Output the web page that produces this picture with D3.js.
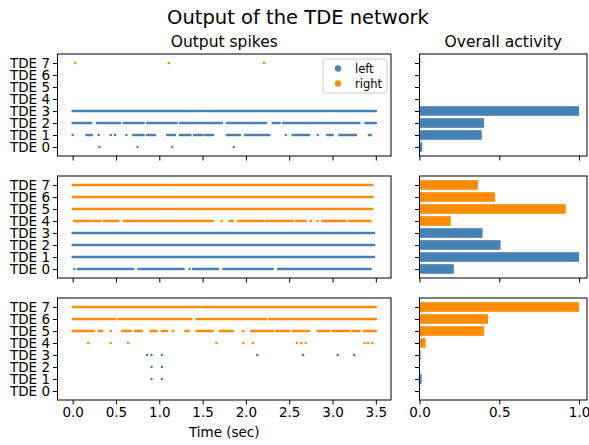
<!DOCTYPE html>
<html>
<head>
<meta charset="utf-8">
<script src="https://cdn.jsdelivr.net/npm/d3@7"></script>
<style>
  body { margin: 0; background: #fff; }
  svg { display: block; font-family: "DejaVu Sans", sans-serif; }
</style>
</head>
<body>
<svg id="chart" width="589" height="445"></svg>
<script>
// ---------- data ----------
const neuronLabels = ["TDE 0","TDE 1","TDE 2","TDE 3","TDE 4","TDE 5","TDE 6","TDE 7"];
const timeTicks = [0, 0.5, 1.0, 1.5, 2.0, 2.5, 3.0, 3.5];
const activityTicks = [0, 0.5, 1.0];
const seriesNames = ["left", "right"];

// spike activity read from the raster: [neuron, start (s), end (s)] (start==end: single spike)
const spikes1 = [
  [0,0.31,0.31],[0,0.75,0.75],[0,1.15,1.15],[0,1.86,1.86],
  [1,0.0,0.0],[1,0.16,0.22],[1,0.30,0.30],[1,0.44,0.44],[1,0.49,0.49],[1,0.62,0.62],
  [1,0.70,0.82],[1,0.86,0.95],[1,1.09,1.18],[1,1.24,1.36],[1,1.40,1.50],[1,1.53,1.62],
  [1,1.78,1.93],[1,1.99,2.27],[1,2.46,2.46],[1,2.54,2.73],[1,2.83,2.83],[1,2.94,3.0],
  [1,3.08,3.27],[1,3.42,3.44],
  [2,0.0,0.21],[2,0.28,0.55],[2,0.59,0.82],[2,0.86,0.95],[2,0.97,1.20],[2,1.24,1.72],
  [2,1.78,1.97],[2,1.99,2.23],[2,2.31,2.39],[2,2.43,2.77],[2,2.79,3.31],[2,3.38,3.5],
  [3,0.0,1.52],[3,1.54,2.95],[3,2.97,3.5],
  [7,0.03,0.03],[7,1.11,1.11],[7,2.21,2.21]
];
const spikes2 = [
  [0,0.02,0.02],[0,0.06,0.70],[0,0.76,1.28],[0,1.35,1.35],[0,1.39,1.68],[0,1.74,2.31],[0,2.37,3.44],
  [1,0.0,3.48],[2,0.0,3.48],[3,0.0,3.48],
  [4,0.015,0.21],[4,0.24,0.32],[4,0.36,0.53],[4,0.59,0.70],[4,0.72,1.09],[4,1.11,1.62],
  [4,1.72,1.72],[4,1.81,1.85],[4,1.91,2.20],[4,2.23,2.54],[4,2.58,2.69],[4,2.75,2.75],
  [4,2.83,2.83],[4,2.88,3.15],[4,3.19,3.44],
  [5,0.0,1.10],[5,1.12,3.46],[6,0.0,3.46],[7,0.0,1.10],[7,1.12,3.46]
];
const spikes3 = [
  [1,0.91,0.91],[1,1.03,1.03],
  [2,0.91,0.91],[2,1.03,1.03],
  [3,0.86,0.86],[3,0.91,0.91],[3,1.03,1.03],[3,2.13,2.13],[3,2.66,2.66],[3,3.06,3.06],[3,3.25,3.25],
  [4,0.18,0.18],[4,0.44,0.44],[4,0.64,0.64],[4,1.66,1.66],[4,1.97,1.97],[4,2.08,2.08],
  [4,2.59,2.59],[4,2.64,2.64],[4,2.69,2.69],[4,3.37,3.37],[4,3.41,3.41],[4,3.46,3.46],
  [5,0.0,0.245],[5,0.30,0.34],[5,0.44,0.44],[5,0.57,0.67],[5,0.72,0.80],[5,0.90,0.97],
  [5,1.03,1.09],[5,1.16,1.16],[5,1.30,1.34],[5,1.43,1.62],[5,1.70,1.85],[5,1.97,1.97],
  [5,2.06,2.31],[5,2.35,2.50],[5,2.54,2.73],[5,2.83,2.96],[5,3.0,3.19],[5,3.23,3.31],[5,3.36,3.5],
  [6,0.0,0.49],[6,0.53,0.68],[6,0.70,0.99],[6,1.01,1.37],[6,1.43,2.23],[6,2.27,3.5],
  [7,0.0,3.5]
];

// normalised overall activity per neuron (TDE 0..7)
const activity1 = [0.017, 0.39, 0.405, 1.0, 0, 0, 0, 0.006];
const activity2 = [0.215, 1.0, 0.508, 0.395, 0.196, 0.917, 0.473, 0.366];
const activity3 = [0, 0.013, 0, 0.007, 0.038, 0.405, 0.43, 1.0];

const colors = { left: "#4682b4", right: "#ff8c00" };

// ---------- layout ----------
const svg = d3.select("#chart");
const W = 589, H = 445;
svg.append("rect").attr("width", W).attr("height", H).attr("fill", "#fff");

const leftX0 = 57.5, leftX1 = 391;
const rightX0 = 419.5, rightX1 = 587;
const panelTops = [54, 176, 298];
const panelH = 102;
const tickFont = "13.5px";

const x = d3.scaleLinear().domain([-0.175, 3.675]).range([leftX0, leftX1]);
const xa = d3.scaleLinear().domain([0, 1.05]).range([rightX0, rightX1]);

const panels = [
  { spikes: spikes1, act: activity1 },
  { spikes: spikes2, act: activity2 },
  { spikes: spikes3, act: activity3 }
];

const sideOf = n => (n < 4 ? "left" : "right");

panels.forEach((p, i) => {
  const top = panelTops[i];
  const y = d3.scaleLinear().domain([-0.75, 7.75]).range([top + panelH, top]);
  const last = i === panels.length - 1;

  // ---- raster ----
  const g = svg.append("g");
  g.selectAll("line.spk").data(p.spikes).enter().append("line")
    .attr("class", "spk")
    .attr("x1", d => x(d[1])).attr("x2", d => x(d[2]))
    .attr("y1", d => y(d[0])).attr("y2", d => y(d[0]))
    .attr("stroke", d => colors[sideOf(d[0])])
    .attr("stroke-width", 2.6)
    .attr("stroke-linecap", "round");

  const yAxis = d3.axisLeft(y).tickValues(d3.range(8)).tickFormat(d => neuronLabels[d])
    .tickSize(4.5).tickPadding(3);
  const ga = svg.append("g").attr("transform", `translate(${leftX0},0)`).call(yAxis);
  const xAxis = d3.axisBottom(x).tickValues(timeTicks).tickFormat(last ? d3.format(".1f") : () => "")
    .tickSize(4.5).tickPadding(3);
  const gx = svg.append("g").attr("transform", `translate(0,${top + panelH})`).call(xAxis);
  [ga, gx].forEach(a => {
    a.select(".domain").remove();
    a.selectAll("line").attr("stroke", "#000").attr("stroke-width", 1);
    a.selectAll("text").attr("fill", "#000").style("font-size", tickFont)
      .style("font-family", "DejaVu Sans, sans-serif");
  });
  svg.append("rect").attr("x", leftX0).attr("y", top)
    .attr("width", leftX1 - leftX0).attr("height", panelH)
    .attr("fill", "none").attr("stroke", "#000").attr("stroke-width", 1);

  // ---- activity bars ----
  const gb = svg.append("g");
  gb.selectAll("rect.bar").data(p.act.map((v, n) => ({ n, v }))).enter().append("rect")
    .attr("class", "bar")
    .attr("x", xa(0))
    .attr("y", d => y(d.n + 0.4))
    .attr("width", d => xa(d.v) - xa(0))
    .attr("height", d => y(d.n - 0.4) - y(d.n + 0.4))
    .attr("fill", d => colors[sideOf(d.n)]);

  const yAxisR = d3.axisLeft(y).tickValues(d3.range(8)).tickFormat(() => "").tickSize(4.5);
  const gar = svg.append("g").attr("transform", `translate(${rightX0},0)`).call(yAxisR);
  const xAxisR = d3.axisBottom(xa).tickValues(activityTicks)
    .tickFormat(last ? d3.format(".1f") : () => "").tickSize(4.5).tickPadding(3);
  const gxr = svg.append("g").attr("transform", `translate(0,${top + panelH})`).call(xAxisR);
  [gar, gxr].forEach(a => {
    a.select(".domain").remove();
    a.selectAll("line").attr("stroke", "#000").attr("stroke-width", 1);
    a.selectAll("text").attr("fill", "#000").style("font-size", tickFont)
      .style("font-family", "DejaVu Sans, sans-serif");
  });
  svg.append("rect").attr("x", rightX0).attr("y", top)
    .attr("width", rightX1 - rightX0).attr("height", panelH)
    .attr("fill", "none").attr("stroke", "#000").attr("stroke-width", 1);
});

// ---- legend (top raster panel) ----
const lg = svg.append("g").attr("transform", "translate(323,59)");
lg.append("rect").attr("width", 64).attr("height", 34).attr("rx", 3)
  .attr("fill", "#fff").attr("fill-opacity", 0.8).attr("stroke", "#ccc").attr("stroke-width", 1);
seriesNames.forEach((s, k) => {
  lg.append("circle").attr("cx", 15).attr("cy", 9.5 + k * 15).attr("r", 3.2)
    .attr("fill", colors[s]);
  lg.append("text").attr("x", 32).attr("y", 9.5 + k * 15).attr("dy", "0.35em")
    .style("font-size", "11.5px").attr("fill", "#000").text(s);
});

// ---- titles ----
svg.append("text").attr("x", 298).attr("y", 24).attr("text-anchor", "middle")
  .style("font-size", "19.5px").attr("fill", "#000").text("Output of the TDE network");
svg.append("text").attr("x", (leftX0 + leftX1) / 2).attr("y", 47).attr("text-anchor", "middle")
  .style("font-size", "15.5px").attr("fill", "#000").text("Output spikes");
svg.append("text").attr("x", (rightX0 + rightX1) / 2).attr("y", 47).attr("text-anchor", "middle")
  .style("font-size", "15.5px").attr("fill", "#000").text("Overall activity");
svg.append("text").attr("x", (leftX0 + leftX1) / 2).attr("y", 437).attr("text-anchor", "middle")
  .style("font-size", "13.5px").attr("fill", "#000").text("Time (sec)");
</script>
</body>
</html>
